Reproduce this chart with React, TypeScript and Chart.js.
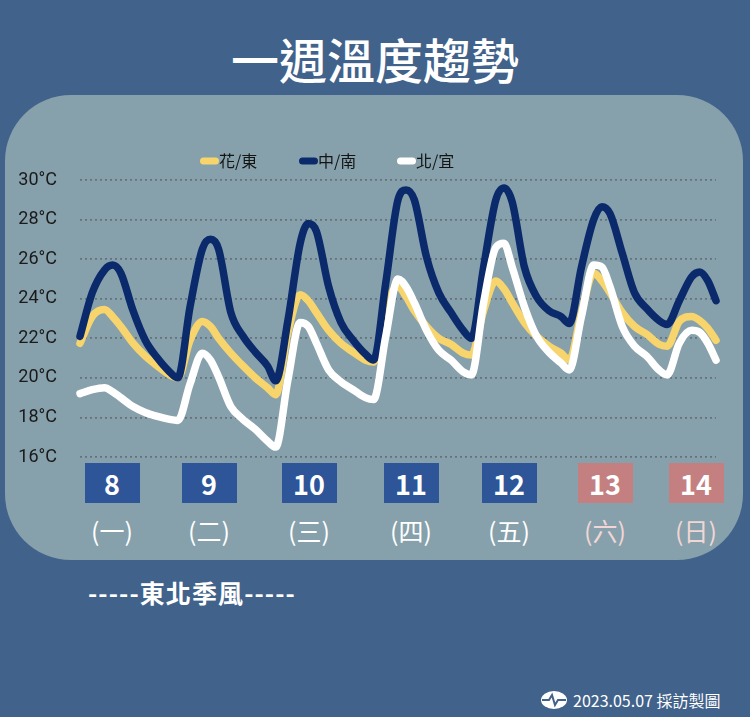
import React, { useEffect, useRef } from "react";
import { Chart, registerables } from "chart.js";

Chart.register(...registerables);

// ---- data ----
const hours = [
  0, 3, 6, 8, 10, 13, 16, 19, 22,
  24, 27, 30, 32, 34, 37, 40, 43, 46,
  48, 51, 54, 56, 58, 61, 64, 67, 70,
  72, 75, 78, 80, 82, 85, 88, 91, 94,
  96, 99, 102, 104, 106, 109, 112, 115, 118,
  120, 123, 126, 128, 130, 133, 136, 139, 142,
  144, 147, 150, 152, 154, 156,
];

const hualienTaitung = [
  21.75, 23.1, 23.45, 23.1, 22.6, 21.75, 21.1, 20.6, 20.15,
  20.0, 21.9, 22.85, 22.6, 22.0, 21.25, 20.6, 20.0, 19.5,
  19.15, 22.3, 24.2, 23.9, 23.3, 22.4, 21.75, 21.3, 20.9,
  20.8, 23.6, 24.6, 24.1, 23.4, 22.6, 22.0, 21.7, 21.25,
  21.15, 23.4, 24.9, 24.5, 23.8, 22.8, 22.1, 21.6, 21.25,
  20.9, 23.3, 25.3, 24.9, 24.3, 23.3, 22.6, 22.2, 21.7,
  21.6, 22.85, 23.1, 22.9, 22.5, 21.9,
];

const centralSouth = [
  22.1, 24.3, 25.45, 25.7, 25.3, 23.4, 21.9, 21.0, 20.3,
  20.0, 23.6, 26.5, 27.0, 26.5, 23.3, 22.1, 21.3, 20.6,
  19.85, 22.9, 26.8, 27.8, 27.4, 24.6, 22.8, 21.9, 21.2,
  20.9, 24.8, 29.0, 29.5, 29.0, 26.1, 24.3, 23.3, 22.4,
  22.0, 25.6, 29.0, 29.6, 28.9, 25.6, 24.1, 23.4, 23.1,
  22.75, 25.6, 28.0, 28.65, 28.3, 26.3, 24.3, 23.5, 22.9,
  22.7, 23.9, 25.1, 25.35, 24.9, 23.9,
];

const northYilan = [
  19.2, 19.4, 19.5, 19.3, 19.0, 18.55, 18.25, 18.05, 17.9,
  17.85, 19.7, 21.25, 20.9, 20.05, 18.55, 17.9, 17.4, 16.8,
  16.5, 19.9, 22.8, 22.6, 21.75, 20.4, 19.8, 19.4, 19.0,
  18.9, 22.1, 25.0, 24.6, 23.8, 22.4, 21.4, 20.9, 20.3,
  20.15, 23.8, 26.6, 26.8, 25.6, 23.6, 22.1, 21.3, 20.75,
  20.4, 23.1, 25.7, 25.6, 24.6, 22.6, 21.6, 21.1, 20.4,
  20.15, 21.75, 22.4, 22.3, 21.75, 20.9,
];

const seriesLabels = ["花/東", "中/南", "北/宜"];
const yTicks = [16, 18, 20, 22, 24, 26, 28, 30];
const dayNumbers = ["8", "9", "10", "11", "12", "13", "14"];
const weekdays = ["(一)", "(二)", "(三)", "(四)", "(五)", "(六)", "(日)"];
const weekendFlags = [false, false, false, false, false, true, true];

// ---- layout / style ----
const BG = "#41628a";
const PANEL = "#86a1ab";
const COLORS = ["#f8d56c", "#0b2a6c", "#ffffff"];
const dayCenters = [112, 209, 309, 411, 509, 605, 696];
const legendStarts = [200, 299, 397];
const CJK = '"Noto Sans CJK TC", "Noto Sans CJK SC", sans-serif';

const legendPlugin = {
  id: "customLegend",
  afterDraw(chart: any) {
    const ctx = chart.ctx;
    ctx.save();
    chart.data.datasets.forEach((ds: any, i: number) => {
      const x = legendStarts[i];
      const y = 161;
      ctx.strokeStyle = ds.borderColor;
      ctx.lineWidth = 7;
      ctx.lineCap = "round";
      ctx.beginPath();
      ctx.moveTo(x + 3.5, y);
      ctx.lineTo(x + 15.5, y);
      ctx.stroke();
      ctx.fillStyle = "#141414";
      ctx.font = `16px ${CJK}`;
      ctx.textBaseline = "middle";
      ctx.textAlign = "left";
      ctx.fillText(ds.label, x + 19, y);
    });
    ctx.restore();
  },
};

function TempChart() {
  const ref = useRef<HTMLCanvasElement | null>(null);
  useEffect(() => {
    if (!ref.current) return;
    const mk = (arr: number[]) => hours.map((h, i) => ({ x: h, y: arr[i] }));
    const series = [hualienTaitung, centralSouth, northYilan];
    const orders = [3, 2, 1];
    const chart = new Chart(ref.current, {
      type: "line",
      data: {
        datasets: series.map((s, i) => ({
          label: seriesLabels[i],
          data: mk(s),
          borderColor: COLORS[i],
          backgroundColor: COLORS[i],
          borderWidth: 7.5,
          pointRadius: 0,
          pointHoverRadius: 0,
          cubicInterpolationMode: "monotone" as const,
          borderCapStyle: "round" as const,
          borderJoinStyle: "round" as const,
          order: orders[i],
          clip: 8,
        })),
      },
      options: {
        animation: false,
        responsive: false,
        devicePixelRatio: 1,
        layout: { padding: { left: 0, top: 180, right: 34, bottom: 260 } },
        plugins: { legend: { display: false }, tooltip: { enabled: false } },
        events: [],
        scales: {
          x: { type: "linear", min: 0, max: 156, display: false },
          y: {
            min: 16,
            max: 30,
            afterFit(scale: any) {
              scale.width = 80;
            },
            afterBuildTicks(scale: any) {
              scale.ticks = yTicks.map((v) => ({ value: v }));
            },
            border: { display: false, dash: [2, 3] },
            grid: {
              color: "rgba(100,108,118,0.9)",
              lineWidth: 1.8,
              tickLength: 0,
              drawTicks: false,
            },
            ticks: {
              padding: 23,
              color: "#1a1a1a",
              font: { family: "Roboto", size: 18 },
              callback: (v: any) => `${v}°C`,
            },
          },
        },
      } as any,
      plugins: [legendPlugin],
    });
    return () => chart.destroy();
  }, []);
  return (
    <canvas
      ref={ref}
      width={750}
      height={717}
      style={{ position: "absolute", left: 0, top: 0, width: 750, height: 717 }}
    />
  );
}

export default function App() {
  return (
    <div
      style={{
        position: "fixed",
        left: 0,
        top: 0,
        width: 750,
        height: 717,
        overflow: "hidden",
        background: BG,
        fontFamily: CJK,
      }}
    >
      <div
        style={{
          position: "absolute",
          left: 0,
          top: 33,
          width: 750,
          height: 50,
          lineHeight: "50px",
          textAlign: "center",
          color: "#fff",
          fontSize: 48,
          fontWeight: 500,
        }}
      >
        一週溫度趨勢
      </div>
      <div
        style={{
          position: "absolute",
          left: 5,
          top: 95,
          width: 738,
          height: 465,
          borderRadius: 66,
          background: PANEL,
        }}
      />
      {dayNumbers.map((d, i) => (
        <div
          key={d}
          style={{
            position: "absolute",
            left: dayCenters[i] - 27.5,
            top: 463,
            width: 55,
            height: 40,
            background: weekendFlags[i] ? "#c47f80" : "#2d5597",
            color: "#fff",
            fontSize: 27,
            fontWeight: 700,
            display: "flex",
            alignItems: "center",
            justifyContent: "center",
            lineHeight: 1,
          }}
        >
          {d}
        </div>
      ))}
      {weekdays.map((w, i) => (
        <div
          key={w}
          style={{
            position: "absolute",
            left: dayCenters[i] - 40,
            top: 514,
            width: 80,
            height: 32,
            lineHeight: "32px",
            textAlign: "center",
            color: weekendFlags[i] ? "#f2d6d6" : "#ffffff",
            fontSize: 25,
            fontWeight: 400,
          }}
        >
          {w}
        </div>
      ))}
      <div
        style={{
          position: "absolute",
          left: 88,
          top: 577,
          height: 30,
          lineHeight: "30px",
          color: "#fff",
          fontSize: 25,
          fontWeight: 700,
          letterSpacing: 1.1,
          whiteSpace: "nowrap",
        }}
      >
        -----東北季風-----
      </div>
      <svg
        width={28}
        height={20}
        style={{ position: "absolute", left: 540, top: 690 }}
        viewBox="0 0 28 20"
      >
        <ellipse cx={14} cy={10} rx={13} ry={9} fill="#fff" />
        <polyline
          points="2,10 9,10 12,5 15,15 18,10 26,10"
          fill="none"
          stroke={BG}
          strokeWidth={2}
        />
      </svg>
      <div
        style={{
          position: "absolute",
          left: 573,
          top: 689,
          height: 22,
          lineHeight: "22px",
          color: "#fff",
          fontSize: 16,
          whiteSpace: "nowrap",
        }}
      >
        2023.05.07 採訪製圖
      </div>
      <TempChart />
    </div>
  );
}
